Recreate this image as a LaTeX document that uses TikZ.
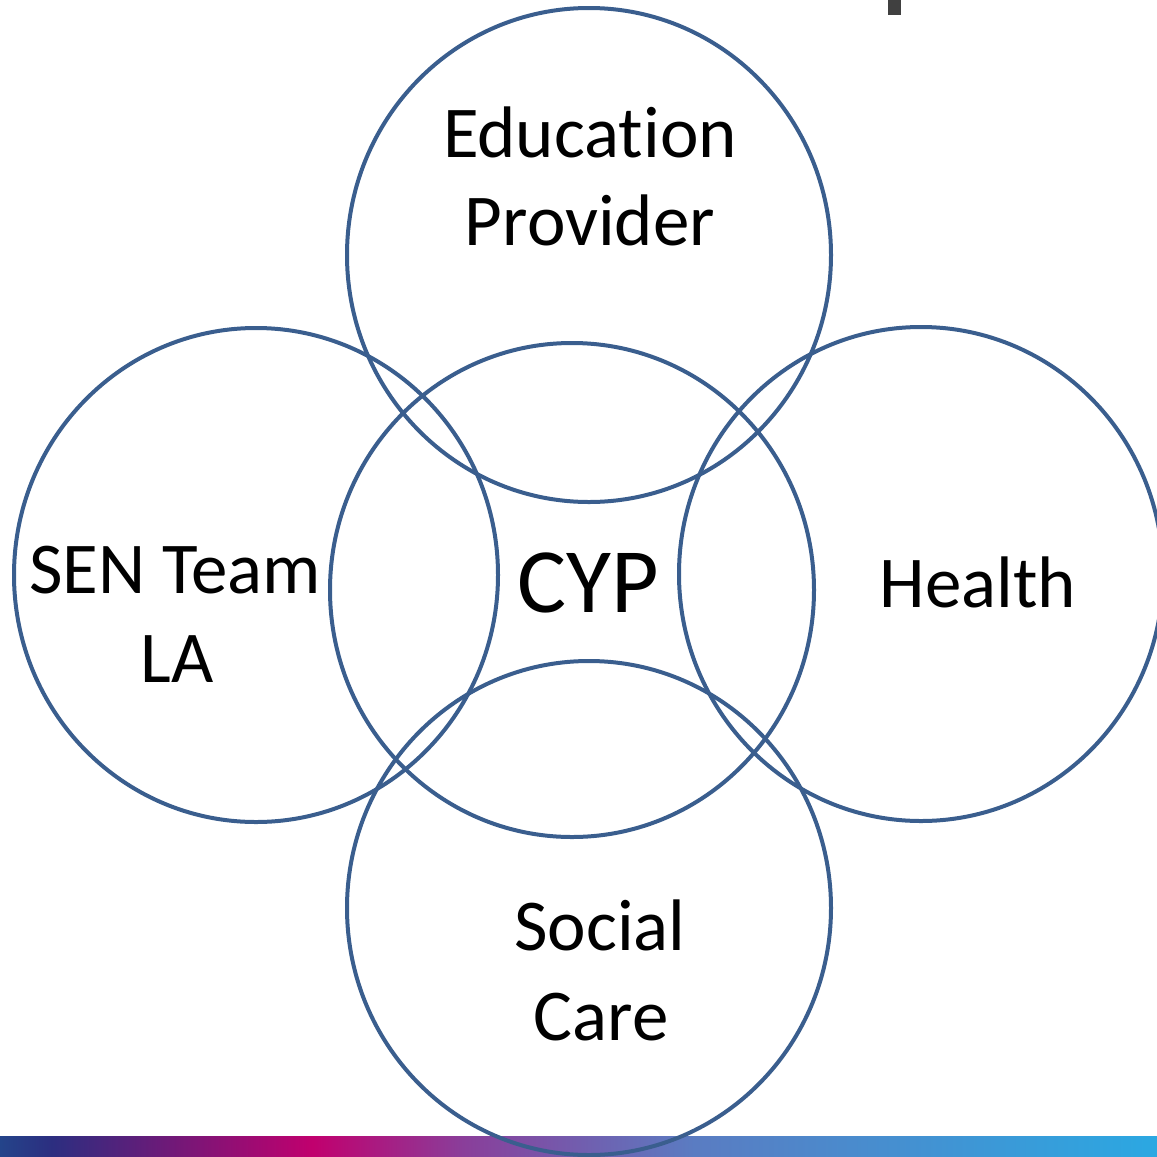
\documentclass[tikz,border=0pt]{standalone}
\usepackage{fontspec}
\setmainfont[Ligatures={NoCommon,NoContextual}]{Carlito}
\definecolor{ring}{HTML}{3A5E8E}
\definecolor{cA}{HTML}{24448A}
\definecolor{cB}{HTML}{2C2E80}
\definecolor{cC}{HTML}{C1006E}
\definecolor{cD}{HTML}{8A3E9A}
\definecolor{cE}{HTML}{5A7CC2}
\definecolor{cF}{HTML}{2BA8E2}
\definecolor{markgray}{HTML}{404040}
\pgfdeclarehorizontalshading{barshade}{100bp}{color(0bp)=(cA); color(25bp)=(cA); color(27.25bp)=(cB); color(38.5bp)=(cC); color(45bp)=(cD); color(55bp)=(cE); color(75bp)=(cF); color(100bp)=(cF)}
\begin{document}
\begin{tikzpicture}[x=1pt,y=-1pt,
  ringstyle/.style={draw=ring,line width=4pt},
  lbl/.style={anchor=base,inner sep=0pt,font=\fontsize{73}{88}\selectfont},
  biglbl/.style={anchor=base,inner sep=0pt,font=\fontsize{92}{100}\selectfont}]
\useasboundingbox (0,0) rectangle (1157,1157);
\shade[shading=barshade] (0,1136) rectangle (1157,1157);
\fill[markgray] (888,0) rectangle (901,15);
\draw[ringstyle] (589,255) ellipse [x radius=242, y radius=247];
\draw[ringstyle] (572,590) ellipse [x radius=242, y radius=247];
\draw[ringstyle] (256,575) ellipse [x radius=242, y radius=247];
\draw[ringstyle] (921,574) ellipse [x radius=242, y radius=247];
\draw[ringstyle] (589,908) ellipse [x radius=242, y radius=247];
\node[lbl] (edu1) at (590,157) {Educat\kern0pt ion};
\node[lbl] (edu2) at (590,245) {Provider};
\node[lbl] (sen1) at (175,593) {SEN Team};
\node[lbl] (sen2) at (177,682) {LA};
\node[biglbl] (cyp) at (588,612) {CYP};
\node[lbl] (hea) at (978,607) {Health};
\node[lbl] (soc1) at (600,950) {Social};
\node[lbl] (soc2) at (601,1040) {Care};
\end{tikzpicture}
\end{document}
